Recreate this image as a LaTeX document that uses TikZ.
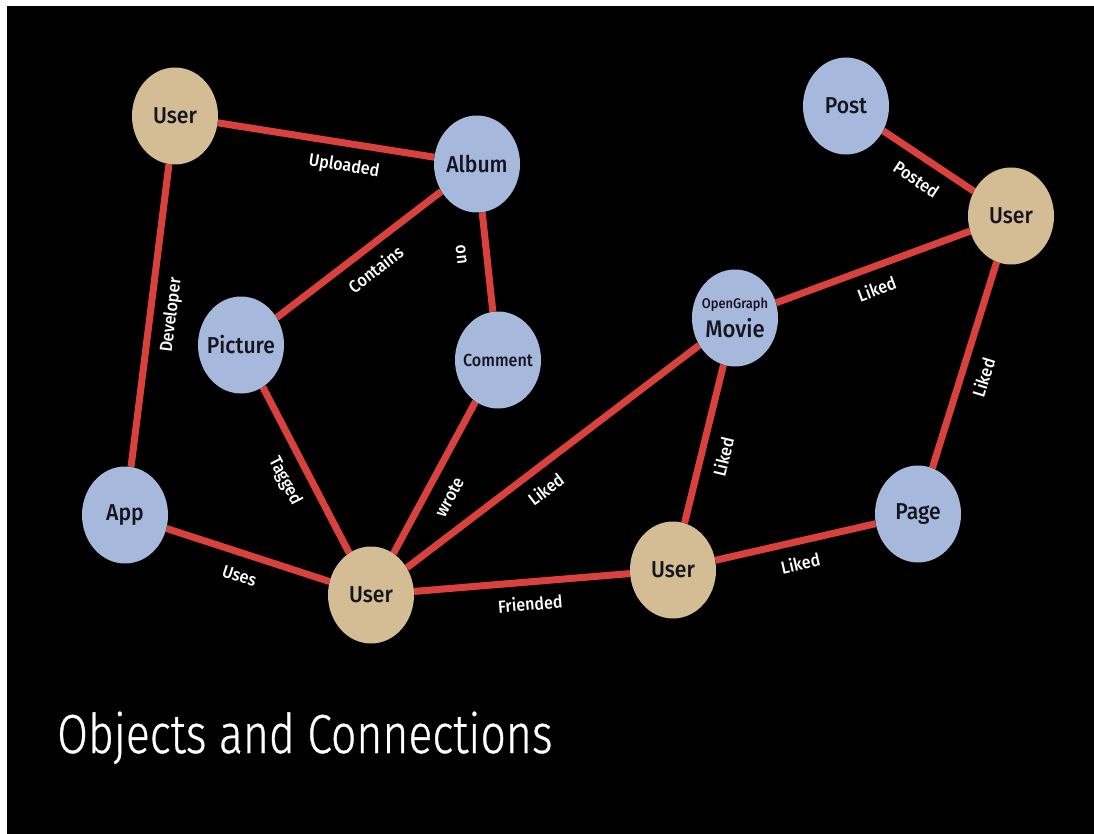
\documentclass[tikz,border=0pt]{standalone}
\usepackage{fontspec}
\setmainfont{Fira Sans}
\newfontfamily\nodefont{Fira Sans Medium}[FakeStretch=0.92]
\newfontfamily\labelfont{Fira Sans Medium}[FakeStretch=0.92]
\newfontfamily\titlefont{Fira Sans Light}[FakeStretch=0.81,FakeBold=0.6]
\usetikzlibrary{shapes.geometric}
\pgfdeclarelayer{back}
\pgfdeclarelayer{edges}
\pgfsetlayers{back,edges,main}
\definecolor{tanfill}{HTML}{D4BC95}
\definecolor{bluefill}{HTML}{A6B9DD}
\definecolor{edgered}{HTML}{D9413C}
\definecolor{nodetext}{HTML}{151520}
\tikzset{
  obj/.style={ellipse, minimum width=86pt, minimum height=97pt, inner sep=0pt,
    text=nodetext, font=\nodefont\fontsize{23}{25}\selectfont,
    execute at begin node={\hbox to 0pt\bgroup\hss},
    execute at end node={\hss\egroup}},
  userobj/.style={obj, fill=tanfill},
  thing/.style={obj, fill=bluefill},
  conn/.style={draw=edgered, line width=7pt},
  lbl/.style={sloped, text=white, font=\labelfont\fontsize{17.5}{19}\selectfont,
    inner sep=0pt, text height=12.5pt, text depth=3.5pt, below=#1},
  lbl/.default=12.5pt
}
\begin{document}
\begin{tikzpicture}[x=1pt,y=1pt]
\begin{pgfonlayer}{back}
\fill[white] (0,0) rectangle (1094,-834);
\fill[black] (7,-6) rectangle (1094,-834);
\end{pgfonlayer}
\useasboundingbox (0,0) rectangle (1094,-834);

\node[userobj] (u1) at (175,-116) {User};
\node[thing] (album) at (477,-164) {Album};
\node[thing] (post) at (846,-106) {Post};
\node[userobj] (u2) at (1011,-216) {User};
\node[thing] (movie) at (735,-318) {\begin{tabular}{@{}c@{}}{\fontsize{14}{15}\selectfont OpenGraph}\\[2pt]{\fontsize{24}{25}\selectfont Movie}\end{tabular}};
\node[thing] (pic) at (241,-345) {Picture};
\node[thing, font=\nodefont\fontsize{17.5}{19}\selectfont] (com) at (498,-360) {Comment};
\node[thing] (app) at (125,-515) {App};
\node[userobj] (ub) at (371,-595) {User};
\node[userobj] (um) at (673,-570) {User};
\node[thing] (page) at (918,-514) {Page};

\begin{pgfonlayer}{edges}
\draw[conn] (u1) -- node[lbl=12pt, pos=0.6] {Uploaded} (album);
\draw[conn] (u1) -- node[lbl=10pt, pos=0.49] {Developer} (app);
\draw[conn] (album) -- node[lbl, pos=0.48] {Contains} (pic);
\draw[conn] (album) -- node[lbl=14pt, pos=0.4] {on} (com);
\draw[conn] (pic) -- node[lbl, pos=0.5] {Tagged} (ub);
\draw[conn] (com) -- node[lbl, pos=0.56] {wrote} (ub);
\draw[conn] (ub) -- node[lbl, pos=0.43] {Liked} (movie);
\draw[conn] (app) -- node[lbl, pos=0.49] {Uses} (ub);
\draw[conn] (ub) -- node[lbl, pos=0.53] {Friended} (um);
\draw[conn] (movie) -- node[lbl, pos=0.55] {Liked} (um);
\draw[conn] (movie) -- node[lbl, pos=0.48] {Liked} (u2);
\draw[conn] (post) -- node[lbl, pos=0.5] {Posted} (u2);
\draw[conn] (u2) -- node[lbl, pos=0.53] {Liked} (page);
\draw[conn] (um) -- node[lbl, pos=0.5] {Liked} (page);
\end{pgfonlayer}

\node[anchor=base west, inner sep=0pt, text=white, font=\titlefont\fontsize{55}{60}\selectfont] (title) at (57,-753) {Objects and Connections};
\end{tikzpicture}
\end{document}
